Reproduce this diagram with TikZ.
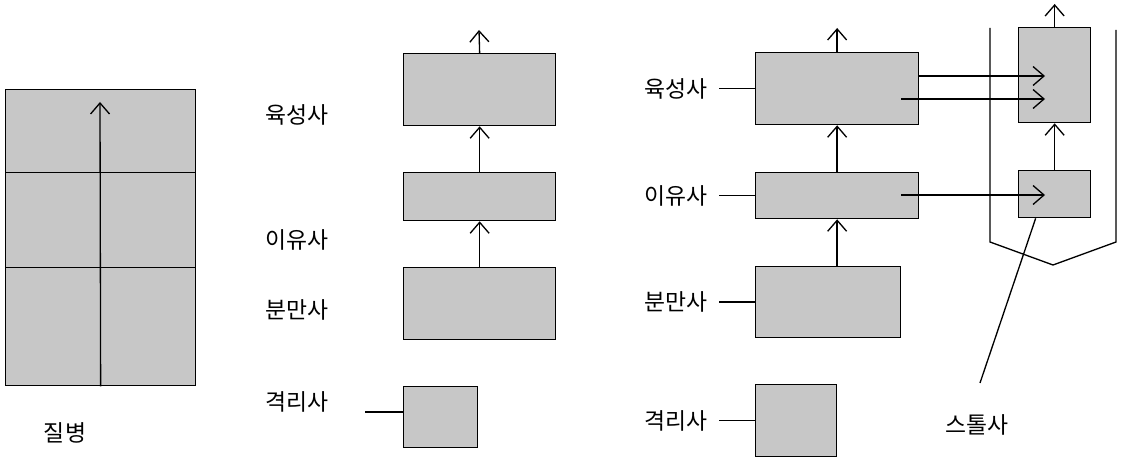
\documentclass[tikz,border=0pt]{standalone}
\usepackage{fontspec}
\newfontfamily\kr{Noto Sans CJK KR}
\usetikzlibrary{arrows.meta}
\begin{document}
\begin{tikzpicture}[x=0.02cm, y=-0.02cm, line width=0.75pt,
  cell/.style={draw, fill=black!22, inner sep=0pt, anchor=north west},
  lbl/.style={font=\kr\fontsize{13}{15}\selectfont, inner sep=0pt},
  >={Straight Barb[length=0.22cm, width=0.38cm]}]
  \useasboundingbox (0,0) rectangle (1146,459);
  % disease: one column
  \node[cell, minimum width=3.8cm, minimum height=1.66cm] (r1) at (5,89) {};
  \node[cell, minimum width=3.8cm, minimum height=1.9cm] (r2) at (5,172) {};
  \node[cell, minimum width=3.8cm, minimum height=2.36cm] (r3) at (5,267) {};
  \coordinate (rtop) at (100,102);
  \draw[->] (r3.south) -- (rtop);
  \node[lbl] (ill) at (65,433) {질병};
  % separate houses
  \node[cell, minimum width=3.04cm, minimum height=1.44cm] (b1) at (403,53) {};
  \node[cell, minimum width=3.04cm, minimum height=0.96cm] (b2) at (403,172) {};
  \node[cell, minimum width=3.04cm, minimum height=1.44cm] (b3) at (403,267) {};
  \node[cell, minimum width=1.48cm, minimum height=1.22cm] (b4) at (403,386) {};
  \coordinate (btop) at (479,30);
  \draw[->] (b3.north) -- (b2.south);
  \draw[->] (b2.north) -- (b1.south);
  \draw[->] (b1.north) -- (btop);
  \node[lbl] (grow1) at (297,115) {육성사};
  \node[lbl] (wean1) at (297,240) {이유사};
  \node[lbl] (birth1) at (297,310) {분만사};
  \node[lbl] (iso1) at (297,402) {격리사};
  \draw ([yshift=0.1cm]b4.west) -- ++(-38,0);
  % with stall house
  \node[cell, minimum width=3.26cm, minimum height=1.44cm] (t1) at (755,52) {};
  \node[cell, minimum width=3.26cm, minimum height=0.92cm] (t2) at (755,172) {};
  \node[cell, minimum width=2.9cm, minimum height=1.42cm] (t3) at (755,266) {};
  \node[cell, minimum width=1.62cm, minimum height=1.44cm] (t4) at (755,384) {};
  \draw[->] (t2.south |- t3.north) -- (t2.south);
  \draw[->] (t2.north) -- (t1.south);
  \draw[->] (t1.north) -- ++(0,-24);
  \foreach \n/\t in {t1/육성사, t2/이유사, t3/분만사, t4/격리사} {
    \draw (\n.west) -- ++(-36,0) node[lbl, anchor=east, xshift=-0.22cm] {\t};
  }
  % stall house
  \draw (990,28) -- (990,242) -- (1053,265) -- (1116,242) -- (1116,30);
  \node[cell, minimum width=1.44cm, minimum height=1.9cm] (s1) at (1018,27) {};
  \node[cell, minimum width=1.44cm, minimum height=0.94cm] (s2) at (1018,170) {};
  \draw[->] (s2.north) -- (s1.south);
  \draw[->] (s1.north) -- ++(0,-23);
  \coordinate (in1) at (1045,76);
  \coordinate (in2) at (1045,99);
  \coordinate (in3) at (1045,195);
  \draw[->] (t1.east |- in1) -- (in1);
  \draw[->] (901,99) -- (in2);
  \draw[->] (901,195) -- (in3);
  \node[lbl] (stall) at (977,425) {스톨사};
  \coordinate (stend) at (980,383);
  \draw ([xshift=-0.38cm]s2.south) -- (stend);
\end{tikzpicture}
\end{document}
